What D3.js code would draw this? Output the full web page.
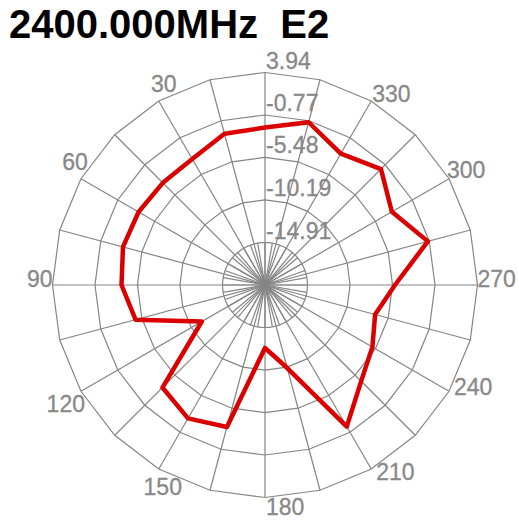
<!DOCTYPE html>
<html>
<head>
<meta charset="utf-8">
<script src="https://cdn.jsdelivr.net/npm/d3@7"></script>
<style>
  html, body { margin: 0; padding: 0; background: #ffffff; }
  svg { display: block; }
</style>
</head>
<body>
<svg id="chart" width="519" height="524"></svg>
<script>
// ---- data ----
const title = "2400.000MHz  E2";
const angles = [0, 15, 30, 45, 60, 75, 90, 105, 120, 135, 150, 165, 180, 195, 210, 225, 240, 255, 270, 285, 300, 315, 330, 345];
const gainDb = [-2.16, -2.27, -3.49, -3.60, -3.43, -3.32, -3.71, -4.76, -11.53, -3.54, -2.55, -3.32, -12.64, -10.09, -1.49, -4.54, -5.87, -6.98, -5.21, -0.93, -3.38, -1.44, -2.81, -0.94];
const ringValues = [3.94, -0.77, -5.48, -10.19, -14.91];
const ringLabels = ["3.94", "-0.77", "-5.48", "-10.19", "-14.91"];
const angleTicks = [30, 60, 90, 120, 150, 180, 210, 240, 270, 300, 330];
const angleTickLabels = ["30", "60", "90", "120", "150", "180", "210", "240", "270", "300", "330"];
const rMin = -19.62, rMax = 3.94;

// ---- layout ----
const cx = 265, cy = 285, R = 212.5;
const gridColor = "#858585";
const labelColor = "#888888";
const svg = d3.select("#chart");
const r = d3.scaleLinear().domain([rMin, rMax]).range([0, R]);
const toRad = a => -a * Math.PI / 180; // counter-clockwise from top
const pt = (a, rad) => [cx - rad * Math.sin(a * Math.PI / 180), cy - rad * Math.cos(a * Math.PI / 180)];

const g = svg.append("g").attr("transform", `translate(${cx},${cy})`);

// rings (polygonal)
const step15 = d3.range(0, 360, 15);
const step5 = d3.range(0, 360, 5);
ringValues.forEach((v, i) => {
  const pts = (i === ringValues.length - 1) ? step5 : step15;
  const line = d3.lineRadial().angle(d => toRad(d)).radius(r(v)).curve(d3.curveLinearClosed);
  g.append("path").attr("d", line(pts)).attr("fill", "none")
    .attr("stroke", gridColor).attr("stroke-width", 1.2);
});

// spokes
step15.forEach(a => {
  const [x, y] = [-R * Math.sin(a * Math.PI / 180), -R * Math.cos(a * Math.PI / 180)];
  g.append("line").attr("x1", 0).attr("y1", 0).attr("x2", x).attr("y2", y)
    .attr("stroke", gridColor).attr("stroke-width", 1.2);
});
const rInner = r(ringValues[ringValues.length - 1]);
d3.range(0, 360, 10).forEach(a => {
  const [x, y] = [-rInner * Math.sin(a * Math.PI / 180), -rInner * Math.cos(a * Math.PI / 180)];
  g.append("line").attr("x1", 0).attr("y1", 0).attr("x2", x).attr("y2", y)
    .attr("stroke", gridColor).attr("stroke-width", 1.2);
});

// ring labels
ringValues.forEach((v, i) => {
  svg.append("text").attr("x", cx + 1).attr("y", cy - r(v) - 4)
    .attr("font-family", "Liberation Sans, Arial, sans-serif").attr("font-size", 23)
    .attr("fill", labelColor).attr("stroke", labelColor).attr("stroke-width", 0.3)
    .attr("text-anchor", "start").text(ringLabels[i]);
});

// angle labels
const labelPlace = {
  30: [5, -9, "middle"], 60: [-6, -9, "middle"], 90: [0, 2, "end"],
  120: [4, 21, "end"], 150: [4, 26, "middle"], 180: [1, 17, "start"],
  210: [5, 11, "start"], 240: [5, 4, "start"], 270: [0, 2, "start"],
  300: [-2, -1, "start"], 330: [1, 1, "start"]
};
angleTicks.forEach((a, i) => {
  const [vx, vy] = pt(a, R);
  const [dx, dy, anchor] = labelPlace[a];
  svg.append("text").attr("x", vx + dx).attr("y", vy + dy)
    .attr("font-family", "Liberation Sans, Arial, sans-serif").attr("font-size", 23)
    .attr("fill", labelColor).attr("stroke", labelColor).attr("stroke-width", 0.3)
    .attr("text-anchor", anchor).text(angleTickLabels[i]);
});

// trace
const data = angles.map((a, i) => ({ a: a, v: gainDb[i] }));
const trace = d3.lineRadial().angle(d => toRad(d.a)).radius(d => r(d.v)).curve(d3.curveLinearClosed);
g.append("path").attr("d", trace(data)).attr("fill", "none")
  .attr("stroke", "#da0000").attr("stroke-width", 4.5)
  .attr("stroke-linejoin", "round");

// title
svg.append("text").attr("x", 9).attr("y", 38)
  .attr("font-family", "Liberation Sans, Arial, sans-serif").attr("font-size", 40)
  .attr("font-weight", "bold").attr("fill", "#000")
  .style("white-space", "pre").text(title);
</script>
</body>
</html>
